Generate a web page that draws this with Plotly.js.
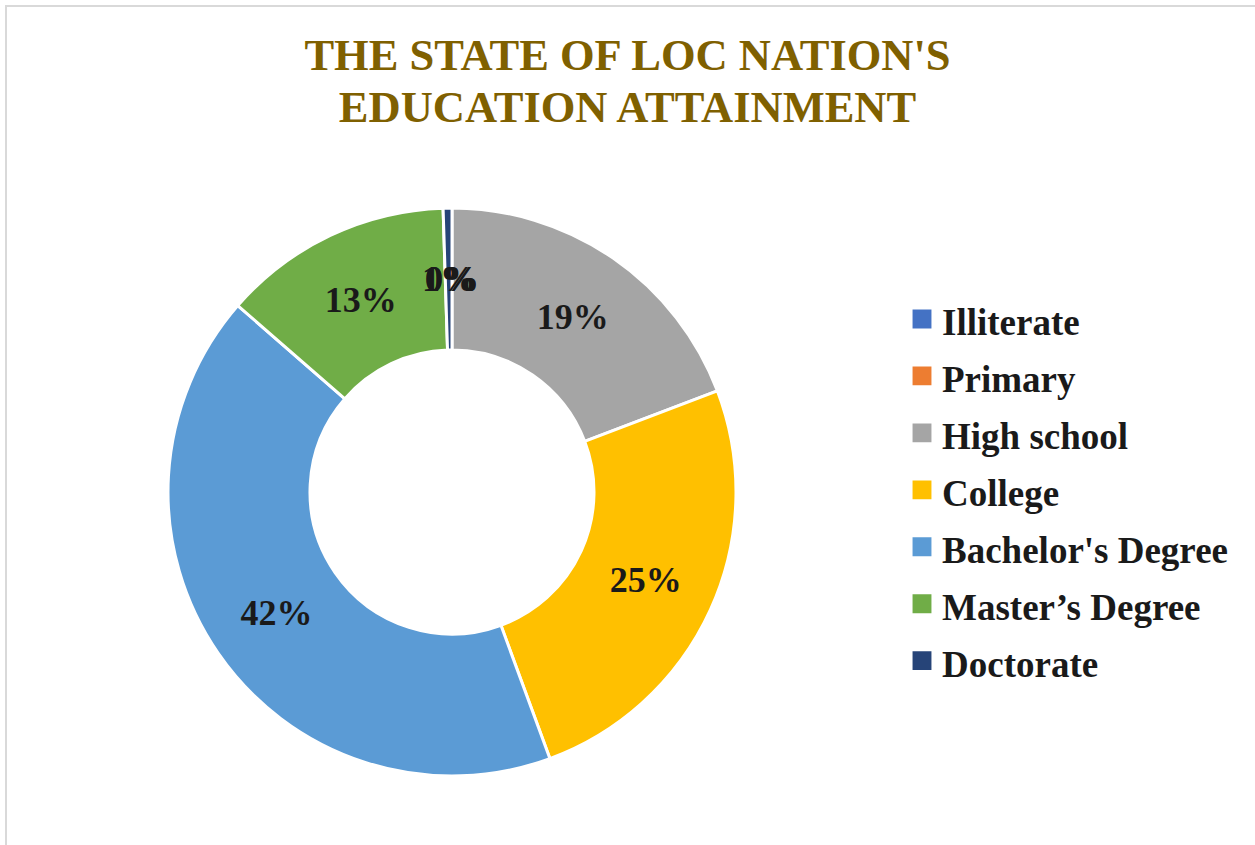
<!DOCTYPE html>
<html>
<head>
<meta charset="utf-8">
<script src="https://cdn.plot.ly/plotly-3.0.1.min.js"></script>
<style>
html,body{margin:0;padding:0;background:#fff;}
#chart{width:1255px;height:845px;}
#chart .legendpie{transform-box:fill-box;transform-origin:center;transform:translate(20px,0px) scale(2.1);}
</style>
</head>
<body>
<div id="chart"></div>
<script>
const categories = ["Illiterate", "Primary", "High school", "College", "Bachelor's Degree", "Master\u2019s Degree", "Doctorate"];
const shares = [0, 0, 19.2, 25.2, 42.0, 13.1, 0.5];
const sliceColors = ["#4472C4", "#ED7D31", "#A5A5A5", "#FFC000", "#5B9BD5", "#70AD47", "#264478"];
const titleLines = ["THE STATE OF LOC NATION'S", "EDUCATION ATTAINMENT"];

const W = 1255, H = 845;
const cx = 452, cy = 492, R = 284, HOLE = 0.5;
const serif = 'Liberation Serif, Times New Roman, serif';
const labelSize = 36;

// slices too thin for inside text get their label as an annotation at mid-ring, computed from the data
const total = shares.reduce((a, b) => a + b, 0);
const thin = shares.map(v => v / total < 0.02);
let cum = 0;
const annotations = [];
shares.forEach((v, i) => {
  const mid = (cum + v / 2) / total;
  cum += v;
  if (!thin[i]) return;
  const ang = mid * 2 * Math.PI;
  const rMid = R * (1 + HOLE) / 2;
  annotations.push({
    xref: 'paper', yref: 'paper',
    x: (cx + rMid * Math.sin(ang)) / W,
    y: (H - cy + rMid * Math.cos(ang)) / H,
    text: Math.round(v / total * 100) + '%',
    showarrow: false, xanchor: 'center', yanchor: 'middle',
    font: {family: serif, size: labelSize, color: '#1a1a1a', weight: 'bold'}
  });
});

const trace = {
  type: 'pie',
  labels: categories.map(c => '<span style="font-size:37px">' + c + '</span>'),
  values: shares,
  sort: false,
  direction: 'clockwise',
  rotation: 0,
  hole: HOLE,
  marker: {colors: sliceColors, line: {color: '#ffffff', width: 3}},
  texttemplate: thin.map(t => t ? '' : '%{percent:.0%}'),
  textposition: 'inside',
  insidetextorientation: 'horizontal',
  textfont: {family: serif, size: labelSize, color: '#1a1a1a', weight: 'bold'},
  domain: {x: [(cx - R) / W, (cx + R) / W], y: [(H - cy - R) / H, (H - cy + R) / H]},
  hoverinfo: 'percent'
};

const layout = {
  width: W, height: H,
  margin: {l: 0, r: 0, t: 0, b: 0},
  paper_bgcolor: '#ffffff',
  showlegend: true,
  uniformtext: {mode: 'show', minsize: labelSize},
  title: {
    text: titleLines.map(t => '<span style="font-size:44.5px">' + t + '</span>').join('<br>'),
    font: {family: serif, size: 40, color: '#7F6000', weight: 'bold'},
    x: 0.5, xanchor: 'center', y: 0.9176, yanchor: 'top'
  },
  legend: {
    x: 902 / W, xanchor: 'left', y: (H - 490) / H, yanchor: 'middle',
    font: {family: serif, size: 41.5, color: '#1a1a1a', weight: 'bold'},
    tracegroupgap: 0, traceorder: 'normal'
  },
  annotations: annotations,
  shapes: [{
    type: 'rect', xref: 'paper', yref: 'paper',
    x0: 6 / W, x1: 1.05, y0: -0.05, y1: 1 - 6 / H,
    line: {color: '#d9d9d9', width: 2}, fillcolor: 'rgba(0,0,0,0)', layer: 'below'
  }]
};

Plotly.newPlot('chart', [trace], layout, {displayModeBar: false, staticPlot: true});
</script>
</body>
</html>
